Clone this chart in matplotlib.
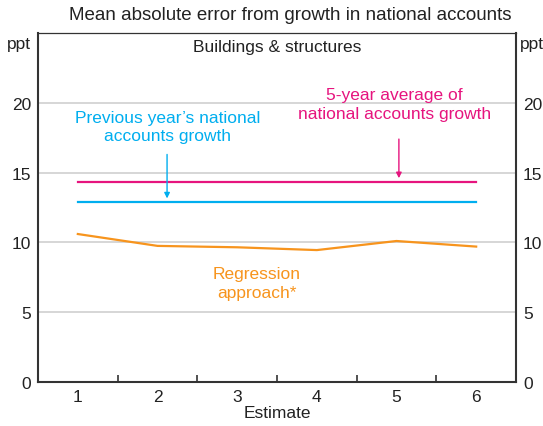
import matplotlib
matplotlib.use("Agg")
import matplotlib.pyplot as plt

plt.rcParams['font.family'] = ['Liberation Sans', 'DejaVu Sans']

estimates = [1, 2, 3, 4, 5, 6]
regression = [10.6, 9.75, 9.65, 9.45, 10.1, 9.7]
prev_year = [12.9] * 6
five_year = [14.35] * 6
yticks = [0, 5, 10, 15, 20]

orange = '#F7941D'
pink = '#E6147E'
blue = '#00AEEF'
dark = '#333333'
txt = '#222222'

fig = plt.figure(figsize=(5.43, 4.27), dpi=100)
ax = fig.add_axes([38/543, 1-383/427, (516-38)/543, (383-34)/427])

ax.set_xlim(0.5, 6.5)
ax.set_ylim(0, 25)
for y in yticks[1:]:
    ax.axhline(y, color='#d0d0d0', lw=1.2, zorder=0)

ax.plot(estimates, five_year, color=pink, lw=1.6)
ax.plot(estimates, prev_year, color=blue, lw=1.6)
ax.plot(estimates, regression, color=orange, lw=1.6)

fs = 12.5
ax.set_yticks(yticks)
ax.set_yticklabels([str(v) for v in yticks], fontsize=fs, color=txt)
ax.tick_params(axis='y', length=0, pad=5, labelleft=True, labelright=True)
ax.set_xticks(estimates)
ax.set_xticklabels([str(v) for v in estimates], fontsize=fs, color=txt)
ax.tick_params(axis='x', length=0, pad=5)
ax.set_xticks([1.5, 2.5, 3.5, 4.5, 5.5], minor=True)
ax.tick_params(axis='x', which='minor', direction='in', length=5, width=1.2, color=dark)
ax.set_xlabel('Estimate', fontsize=fs, color=txt, labelpad=1)

for s in ['left', 'right', 'bottom']:
    ax.spines[s].set_color(dark)
    ax.spines[s].set_linewidth(1.5)
ax.spines['top'].set_color(dark)
ax.spines['top'].set_linewidth(0.9)

fig.text(31/543, 1-44/427, 'ppt', ha='right', va='center', fontsize=fs, color=txt)
fig.text(520/543, 1-44/427, 'ppt', ha='left', va='center', fontsize=fs, color=txt)
ax.text(0.5, 0.96, 'Buildings & structures', transform=ax.transAxes, ha='center', va='center', fontsize=fs, color=txt)

fig.text(290/543, 1-16/427, 'Mean absolute error from growth in national accounts', ha='center', va='center', fontsize=13.5, color=txt)

ax.text(2.13, 18.3, "Previous year\u2019s national\naccounts growth", ha='center', va='center', fontsize=fs, color=blue, linespacing=1.3)
ax.annotate('', xy=(2.12, 12.95), xytext=(2.12, 16.5),
            arrowprops=dict(arrowstyle='-|>', color=blue, lw=1.0, mutation_scale=8))

ax.text(4.97, 19.9, "5-year average of\nnational accounts growth", ha='center', va='center', fontsize=fs, color=pink, linespacing=1.3)
ax.annotate('', xy=(5.03, 14.4), xytext=(5.03, 17.6),
            arrowprops=dict(arrowstyle='-|>', color=pink, lw=1.0, mutation_scale=8))

ax.text(3.25, 7.1, "Regression\napproach*", ha='center', va='center', fontsize=fs, color=orange, linespacing=1.3)

fig.savefig('out.png', dpi=100)
